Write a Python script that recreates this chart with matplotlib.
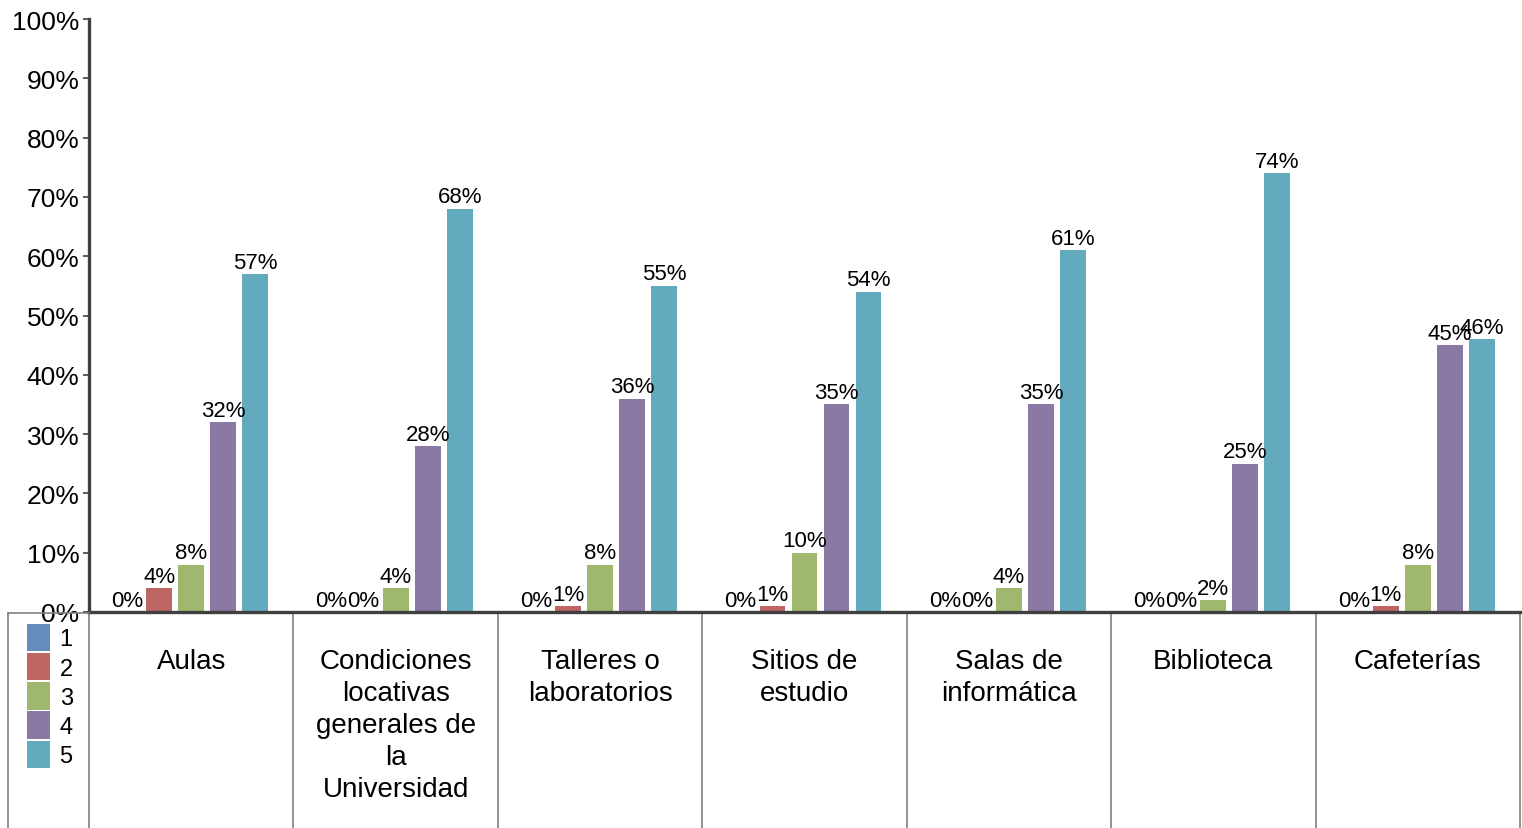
import matplotlib.pyplot as plt
import numpy as np
from matplotlib.lines import Line2D
from matplotlib.ticker import PercentFormatter
import matplotlib.transforms as mtransforms

plt.rcParams['font.family'] = ['Liberation Sans', 'DejaVu Sans']

categories = ['Aulas', 'Condiciones\nlocativas\ngenerales de\nla\nUniversidad',
              'Talleres o\nlaboratorios', 'Sitios de\nestudio', 'Salas de\ninformática',
              'Biblioteca', 'Cafeterías']
series_names = ['1', '2', '3', '4', '5']
s1 = [0, 0, 0, 0, 0, 0, 0]
s2 = [4, 0, 1, 1, 0, 0, 1]
s3 = [8, 4, 8, 10, 4, 2, 8]
s4 = [32, 28, 36, 35, 35, 25, 45]
s5 = [57, 68, 55, 54, 61, 74, 46]
colors = ['#658CBB', '#BD6663', '#A0B86E', '#8A78A5', '#63AABE']

W, H = 1522, 829
fig = plt.figure(figsize=(W / 100, H / 100), dpi=100)
# axes box in pixels: left 89, right 1520, top 20, bottom 613
ax = fig.add_axes([89 / W, (H - 613) / H, 1431 / W, 593 / H])

x = np.arange(len(categories))
step = 0.1565
bw = 0.127
for k, vals in enumerate([s1, s2, s3, s4, s5]):
    v = np.array(vals) / 100.0
    bars = ax.bar(x + (k - 2) * step, v, bw, color=colors[k], label=series_names[k])
    ax.bar_label(bars, labels=[f'{val}%' for val in vals], padding=1, fontsize=16)

ax.set_xlim(-0.5, len(categories) - 0.5)
ax.set_ylim(0, 1)
ax.set_yticks(np.arange(0, 1.01, 0.1))
ax.yaxis.set_major_formatter(PercentFormatter(1.0, decimals=0))
ax.tick_params(axis='y', labelsize=19, length=4, width=1.2, color='#404040', pad=3)
ax.set_xticks([])
for s in ['top', 'right']:
    ax.spines[s].set_visible(False)
ax.spines['left'].set_linewidth(2.4)
ax.spines['left'].set_color('#404040')
ax.spines['bottom'].set_linewidth(2.4)
ax.spines['bottom'].set_color('#404040')

# table under the axis
bot = -1.0 * (H - 613) / 593
trans = mtransforms.blended_transform_factory(ax.transData, ax.transAxes)
for i in range(len(categories) + 1):
    ax.add_line(Line2D([i - 0.5, i - 0.5], [0, bot], transform=trans, color='#808080',
                       lw=1.2, clip_on=False))
# left cell for legend
lx = 8 / W
fig.add_artist(Line2D([lx, 89 / W], [(H - 614) / H] * 2, color='#808080', lw=1.2))
fig.add_artist(Line2D([lx, lx], [(H - 614) / H, 0], color='#808080', lw=1.2))

for i, c in enumerate(categories):
    ax.text(i, -36 / 593, c, transform=trans, ha='center', va='top', fontsize=20,
            linespacing=1.3)

leg = fig.legend(loc='upper left', bbox_to_anchor=(27 / W, (H - 625) / H), frameon=False,
                 fontsize=17, handlelength=0.98, handleheight=1.4, labelspacing=0.08,
                 handletextpad=0.4, borderpad=0, borderaxespad=0)

fig.savefig('out.png', dpi=100)
